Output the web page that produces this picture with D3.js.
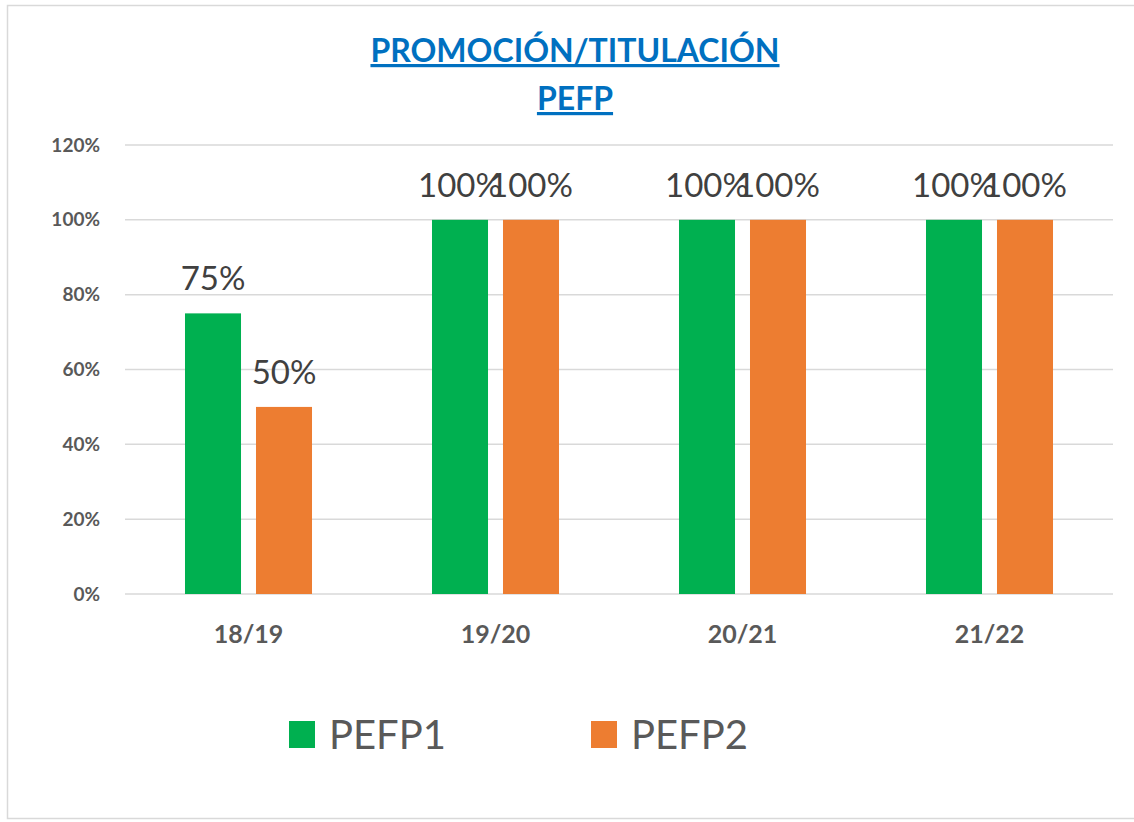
<!DOCTYPE html>
<html>
<head>
<meta charset="utf-8">
<script src="https://cdn.jsdelivr.net/npm/d3@7"></script>
<style>
  body { margin: 0; background: #fff; }
  svg text { font-family: Lato, "Open Sans", sans-serif; }
</style>
</head>
<body>
<svg id="chart" width="1134" height="822"></svg>
<script>
var years = ["18/19", "19/20", "20/21", "21/22"];
var seriesNames = ["PEFP1", "PEFP2"];
var pefp1 = [0.75, 1, 1, 1];
var pefp2 = [0.5, 1, 1, 1];
var yTicks = [0, 0.2, 0.4, 0.6, 0.8, 1, 1.2];
var colors = ["#00B050", "#ED7D31"];

var svg = d3.select("#chart");

// chart frame
svg.append("rect")
    .attr("x", 7.5).attr("y", 5.5)
    .attr("width", 1140).attr("height", 813)
    .attr("fill", "#fff").attr("stroke", "#d9d9d9").attr("stroke-width", 1.5);

// title
var title = svg.append("g").attr("fill", "#0070C0").attr("font-weight", "bold")
    .attr("text-anchor", "middle").attr("font-size", 32);
title.append("text").attr("x", 575).attr("y", 62).text("PROMOCIÓN/TITULACIÓN")
    .attr("text-decoration", "underline");
title.append("text").attr("x", 575).attr("y", 110).text("PEFP")
    .attr("text-decoration", "underline");

var x = d3.scaleBand().domain(years).range([125, 1113]);
var x1 = d3.scaleBand().domain(seriesNames).range([0, x.bandwidth()])
    .paddingInner(0.211).paddingOuter(0.845);
var y = d3.scaleLinear().domain([0, 1.2]).range([594, 145]);

// grid lines
svg.append("g").selectAll("line").data(yTicks).enter()
  .append("line")
    .attr("x1", 125).attr("x2", 1113)
    .attr("y1", function(d) { return y(d); }).attr("y2", function(d) { return y(d); })
    .attr("stroke", "#d9d9d9").attr("stroke-width", 1.5);

// y axis labels
var yAxis = svg.append("g").attr("transform", "translate(103,0)")
    .call(d3.axisLeft(y).tickValues(yTicks).tickSize(0).tickFormat(d3.format(".0%")));
yAxis.select(".domain").remove();
yAxis.selectAll("text").attr("font-size", 19).attr("font-weight", "bold")
    .attr("fill", "#595959").attr("font-family", "Lato, sans-serif");

// x axis labels
var xAxis = svg.append("g").attr("transform", "translate(0,594)")
    .call(d3.axisBottom(x).tickSize(0).tickPadding(31));
xAxis.select(".domain").remove();
xAxis.selectAll("text").attr("font-size", 25).attr("font-weight", "bold")
    .attr("fill", "#595959").attr("font-family", "Lato, sans-serif");

var rows = years.map(function(yr, i) {
  return { year: yr, vals: [
    { name: "PEFP1", v: pefp1[i], c: colors[0] },
    { name: "PEFP2", v: pefp2[i], c: colors[1] }
  ] };
});

var groups = svg.append("g").selectAll("g").data(rows).enter()
  .append("g").attr("transform", function(d) { return "translate(" + x(d.year) + ",0)"; });

groups.selectAll("rect").data(function(d) { return d.vals; }).enter()
  .append("rect")
    .attr("x", function(d) { return x1(d.name); })
    .attr("width", x1.bandwidth())
    .attr("y", function(d) { return y(d.v); })
    .attr("height", function(d) { return y(0) - y(d.v); })
    .attr("fill", function(d) { return d.c; });

groups.selectAll("text").data(function(d) { return d.vals; }).enter()
  .append("text")
    .attr("x", function(d) { return x1(d.name) + x1.bandwidth() / 2; })
    .attr("y", function(d) { return y(d.v) - 23; })
    .attr("text-anchor", "middle")
    .attr("font-size", 33).attr("fill", "#404040")
    .text(function(d) { return d3.format(".0%")(d.v); });

// legend
var legend = svg.append("g").selectAll("g").data(seriesNames).enter()
  .append("g").attr("transform", function(d, i) { return "translate(" + (289 + i * 302) + ",721)"; });
legend.append("rect").attr("width", 26).attr("height", 27)
    .attr("fill", function(d, i) { return colors[i]; });
legend.append("text").attr("x", 40).attr("y", 28)
    .attr("font-size", 40).attr("fill", "#595959")
    .text(function(d) { return d; });
</script>
</body>
</html>
